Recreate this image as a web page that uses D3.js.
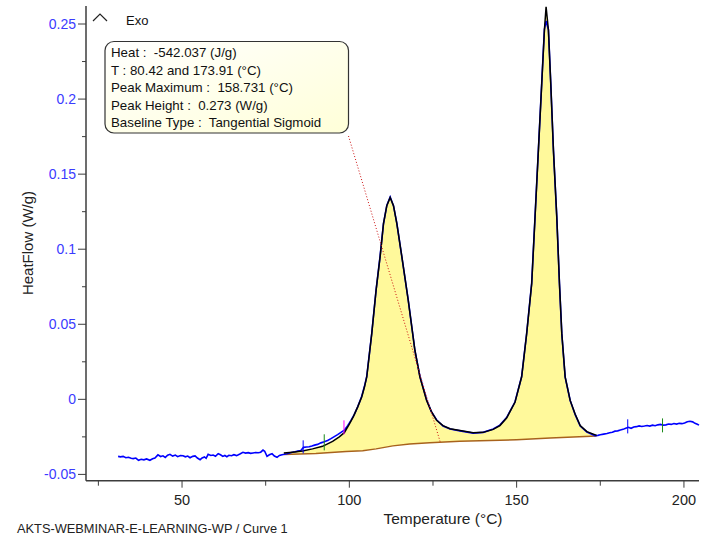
<!DOCTYPE html>
<html>
<head>
<meta charset="utf-8">
<script src="https://cdn.jsdelivr.net/npm/d3@7"></script>
<style>
  body { margin: 0; background: #fff; }
  svg { display: block; font-family: "Liberation Sans", Arial, sans-serif; }
</style>
</head>
<body>
<svg id="chart" width="715" height="537"></svg>
<script>
// measured heat flow (blue), [T °C, W/g]
const measured = [
  [30.9,-0.0380],[31.6,-0.0383],[32.4,-0.0380],[33.2,-0.0389],[34.0,-0.0386],[34.8,-0.0392],
  [35.4,-0.0395],[36.2,-0.0391],[37.0,-0.0406],[37.8,-0.0399],[38.6,-0.0403],[39.4,-0.0397],
  [40.4,-0.0406],[41.2,-0.0396],[41.9,-0.0391],[42.8,-0.0370],[43.6,-0.0381],[44.3,-0.0376],
  [45.0,-0.0387],[45.7,-0.0372],[46.4,-0.0366],[47.2,-0.0378],[48.0,-0.0371],[48.7,-0.0382],
  [49.5,-0.0374],[50.3,-0.0376],[51.0,-0.0383],[51.7,-0.0378],[52.4,-0.0389],[53.2,-0.0380],
  [53.9,-0.0377],[54.6,-0.0391],[55.4,-0.0402],[56.0,-0.0390],[56.7,-0.0384],[57.2,-0.0393],
  [57.8,-0.0366],[58.6,-0.0374],[59.3,-0.0371],[60.0,-0.0379],[60.8,-0.0362],[61.5,-0.0369],
  [62.2,-0.0380],[62.8,-0.0374],[63.4,-0.0382],[64.0,-0.0373],[64.8,-0.0376],[65.5,-0.0369],
  [66.3,-0.0375],[67.3,-0.0364],[68.2,-0.0353],[69.0,-0.0358],[69.8,-0.0355],[70.5,-0.0360],
  [71.2,-0.0357],[72.0,-0.0354],[72.8,-0.0356],[73.5,-0.0352],[74.2,-0.0338],[74.7,-0.0346],
  [75.4,-0.0380],[76.1,-0.0369],[76.9,-0.0362],[77.6,-0.0378],[78.4,-0.0386],[79.1,-0.0374],
  [79.9,-0.0369],[80.6,-0.0366],[81.4,-0.0362],[82.2,-0.0357],[83.0,-0.0352],[83.8,-0.0349],
  [84.6,-0.0345],[85.5,-0.0341],[86.3,-0.0320],[87.2,-0.0318],[88.0,-0.0316],[88.8,-0.0311],
  [89.6,-0.0305],[90.5,-0.0300],[91.5,-0.0290],[92.5,-0.0283],[93.5,-0.0274],[94.5,-0.0262],
  [95.5,-0.0248],[96.5,-0.0235],[97.5,-0.0220],[98.5,-0.0205],[99.5,-0.0175],[100.5,-0.0140],
  [101.5,-0.0100],[102.5,-0.0050],[103.7,0.0020],[104.5,0.0085],[105.2,0.0152],[106.7,0.0440],
  [108.0,0.0730],[109.2,0.0955],[110.2,0.1168],[111.2,0.1292],[112.2,0.1348],[113.2,0.1288],
  [114.2,0.1172],[115.7,0.0948],[117.6,0.0662],[119.6,0.0325],[121.1,0.0152],[123.1,-0.0005],
  [124.5,-0.0082],[126.1,-0.0138],[128.0,-0.0178],[130.1,-0.0198],[133.1,-0.0210],[137.0,-0.0225],
  [140.0,-0.0220],[143.0,-0.0198],[145.0,-0.0172],[147.0,-0.0122],[149.5,-0.0018],[151.5,0.0152],
  [153.0,0.0440],[154.5,0.0775],[155.5,0.1218],[156.5,0.1662],[157.5,0.2108],[158.3,0.2465],
  [158.8,0.2520],[159.5,0.2462],[160.2,0.2102],[161.0,0.1658],[162.0,0.1212],[162.8,0.0768],
  [163.5,0.0436],[164.5,0.0148],[166.0,-0.0008],[167.5,-0.0102],[169.0,-0.0178],[171.0,-0.0218],
  [173.4,-0.0242],[174.3,-0.0240],[175.0,-0.0236],[176.0,-0.0232],[177.0,-0.0228],[177.8,-0.0222],
  [178.6,-0.0219],[179.4,-0.0212],[180.2,-0.0210],[181.0,-0.0204],[181.8,-0.0200],[182.6,-0.0192],
  [183.4,-0.0186],[184.2,-0.0193],[185.0,-0.0184],[185.8,-0.0182],[186.6,-0.0177],[187.4,-0.0181],
  [188.2,-0.0178],[189.0,-0.0174],[189.8,-0.0178],[190.6,-0.0172],[191.4,-0.0176],[192.2,-0.0170],
  [193.0,-0.0167],[193.8,-0.0172],[194.6,-0.0170],[195.4,-0.0164],[196.2,-0.0167],[197.0,-0.0161],
  [197.8,-0.0165],[198.6,-0.0160],[199.4,-0.0162],[200.2,-0.0157],[201.0,-0.0149],[201.8,-0.0146],
  [202.6,-0.0150],[203.3,-0.0160],[204.0,-0.0166],[204.5,-0.0172]
];

// integrated signal (black) between the integration limits
const signal = [
  [80.42,-0.0358],[83,-0.0352],[86,-0.0344],[89,-0.0330],[92,-0.0313],[95,-0.0280],[97,-0.0250],
  [98.5,-0.0222],[100,-0.0165],[101.2,-0.0115],[102.5,-0.0050],[103.7,0.0016],[104.5,0.0080],
  [105.2,0.0149],[106.7,0.0438],[108.0,0.0727],[109.2,0.0950],[110.2,0.1170],[111.2,0.1290],
  [112.2,0.1345],[113.2,0.1290],[114.2,0.1170],[115.7,0.0950],[117.6,0.0660],[119.6,0.0327],
  [121.1,0.0149],[123.1,-0.0007],[124.5,-0.0080],[126.1,-0.0140],[128,-0.0175],[130.1,-0.0196],
  [133.1,-0.0207],[137,-0.0222],[140,-0.0220],[143,-0.0200],[145,-0.0175],[147,-0.0125],
  [149.5,-0.0020],[151.5,0.0150],[153.0,0.0438],[154.5,0.0771],[155.5,0.1215],[156.5,0.1660],
  [157.5,0.2104],[158.3,0.2460],[158.8,0.2615],[159.5,0.2460],[160.2,0.2104],[161.0,0.1660],
  [162.0,0.1215],[162.8,0.0771],[163.5,0.0438],[164.5,0.0150],[166.0,-0.0007],[167.5,-0.0100],
  [169.0,-0.0175],[171,-0.0215],[173.91,-0.0240]
];

// tangential sigmoid baseline
const baseline = [
  [80.42,-0.0367],[90,-0.0360],[99,-0.0347],[104,-0.0342],[108,-0.0330],[113,-0.0310],
  [118,-0.0298],[124,-0.0290],[133,-0.0280],[150,-0.0269],[160,-0.0258],[173.91,-0.0245]
];

// small event markers on the curve
const markers = [
  { t: 86.2,  lo: -0.0360, hi: -0.0273, color: "#0000ff" },
  { t: 92.5,  lo: -0.0340, hi: -0.0233, color: "#1a8a1a" },
  { t: 98.4,  lo: -0.0233, hi: -0.0140, color: "#ff00ff" },
  { t: 183.2, lo: -0.0227, hi: -0.0133, color: "#0000ff" },
  { t: 193.6, lo: -0.0220, hi: -0.0127, color: "#1a8a1a" }
];

const xMajor = [50, 100, 150, 200];
const xMinor = [25, 75, 125, 175];
const yMajor = [-0.05, 0, 0.05, 0.1, 0.15, 0.2, 0.25];
const yMinor = [-0.025, 0.025, 0.075, 0.125, 0.175, 0.225];

const infoLines = [
  "Heat :  -542.037 (J/g)",
  "T : 80.42 and 173.91 (°C)",
  "Peak Maximum :  158.731 (°C)",
  "Peak Height :  0.273 (W/g)",
  "Baseline Type :  Tangential Sigmoid"
];
const connectorT = 127.2;   // where the dotted leader meets the baseline

const svg = d3.select("#chart");
const plotLeft = 86, plotRight = 699, plotTop = 6, plotBottom = 480.7;

const x = d3.scaleLinear().domain([21.3, 204.5]).range([plotLeft, plotRight]);
const y = d3.scaleLinear().domain([-0.0542, 0.262]).range([plotBottom, plotTop]);

const line = d3.line().x(d => x(d[0])).y(d => y(d[1]));

// yellow peak area: signal forward, baseline back
const areaPts = signal.concat(baseline.slice().reverse());
svg.append("path")
  .attr("d", line(areaPts) + "Z")
  .attr("fill", "#fff99b")
  .attr("stroke", "none");

svg.append("path")
  .attr("d", line(baseline))
  .attr("fill", "none")
  .attr("stroke", "#a8621c")
  .attr("stroke-width", 1.5);

svg.append("path")
  .attr("d", line(measured))
  .attr("fill", "none")
  .attr("stroke", "#0000ff")
  .attr("stroke-width", 1.6);

svg.append("path")
  .attr("d", line(signal))
  .attr("fill", "none")
  .attr("stroke", "#000")
  .attr("stroke-width", 1.5);

svg.selectAll(".marker")
  .data(markers)
  .enter().append("line")
  .attr("class", "marker")
  .attr("x1", d => x(d.t)).attr("x2", d => x(d.t))
  .attr("y1", d => y(d.lo)).attr("y2", d => y(d.hi))
  .attr("stroke", d => d.color)
  .attr("stroke-width", 1);

// axes (left + bottom only)
const axisColor = "#3c3c3c";
const yAxis = svg.append("g").attr("transform", `translate(${plotLeft},0)`);
yAxis.append("line").attr("x1", 0).attr("x2", 0).attr("y1", plotTop).attr("y2", plotBottom)
  .attr("stroke", axisColor).attr("stroke-width", 1.5);
yAxis.selectAll(".ymaj").data(yMajor).enter().append("line")
  .attr("x1", -8).attr("x2", 0).attr("y1", d => y(d)).attr("y2", d => y(d))
  .attr("stroke", axisColor);
yAxis.selectAll(".ymin").data(yMinor).enter().append("line")
  .attr("x1", -4).attr("x2", 0).attr("y1", d => y(d)).attr("y2", d => y(d))
  .attr("stroke", axisColor);
yAxis.selectAll(".ylab").data(yMajor).enter().append("text")
  .attr("x", -10).attr("y", d => y(d)).attr("dy", "0.36em")
  .attr("text-anchor", "end")
  .attr("fill", "#3b3bff")
  .style("font-size", "14px")
  .text(d => String(d));

const xAxis = svg.append("g").attr("transform", `translate(0,${plotBottom})`);
xAxis.append("line").attr("x1", plotLeft).attr("x2", plotRight).attr("y1", 0).attr("y2", 0)
  .attr("stroke", axisColor).attr("stroke-width", 1.5);
xAxis.selectAll(".xmaj").data(xMajor).enter().append("line")
  .attr("x1", d => x(d)).attr("x2", d => x(d)).attr("y1", 0).attr("y2", 7)
  .attr("stroke", axisColor);
xAxis.selectAll(".xmin").data(xMinor).enter().append("line")
  .attr("x1", d => x(d)).attr("x2", d => x(d)).attr("y1", 0).attr("y2", 5)
  .attr("stroke", axisColor);
xAxis.selectAll(".xlab").data(xMajor).enter().append("text")
  .attr("x", d => x(d)).attr("y", 24)
  .attr("text-anchor", "middle")
  .attr("fill", "#222")
  .style("font-size", "14.5px")
  .text(d => d);

svg.append("text")
  .attr("x", 443).attr("y", 524)
  .attr("text-anchor", "middle")
  .attr("fill", "#222")
  .style("font-size", "15.5px")
  .text("Temperature (°C)");

svg.append("text")
  .attr("transform", "translate(33,243) rotate(-90)")
  .attr("text-anchor", "middle")
  .attr("fill", "#222")
  .style("font-size", "15px")
  .text("HeatFlow (W/g)");

svg.append("text")
  .attr("x", 17).attr("y", 533)
  .attr("fill", "#222")
  .style("font-size", "12.8px")
  .text("AKTS-WEBMINAR-E-LEARNING-WP / Curve 1");

// exo marker
svg.append("polyline")
  .attr("points", "93,21 100,14 107,21")
  .attr("fill", "none").attr("stroke", "#222").attr("stroke-width", 1.2);
svg.append("text")
  .attr("x", 126).attr("y", 25)
  .attr("fill", "#111")
  .style("font-size", "13px")
  .text("Exo");

// dotted leader from info box to baseline
const boxX = 105, boxY = 41.5, boxW = 243.5, boxH = 91.5;
svg.append("line")
  .attr("x1", boxX + boxW).attr("y1", boxY + boxH + 3)
  .attr("x2", x(connectorT)).attr("y2", y(-0.0287))
  .attr("stroke", "#cc1010").attr("stroke-width", 1)
  .attr("stroke-dasharray", "1,2");

// info box
const defs = svg.append("defs");
const grad = defs.append("linearGradient").attr("id", "boxfill")
  .attr("x1", "0").attr("y1", "0").attr("x2", "1").attr("y2", "1");
grad.append("stop").attr("offset", "0").attr("stop-color", "#ffffff");
grad.append("stop").attr("offset", "1").attr("stop-color", "#ffffd8");

svg.append("rect")
  .attr("x", boxX).attr("y", boxY).attr("width", boxW).attr("height", boxH)
  .attr("rx", 9).attr("ry", 9)
  .attr("fill", "url(#boxfill)")
  .attr("stroke", "#333").attr("stroke-width", 1.2);

svg.selectAll(".info").data(infoLines).enter().append("text")
  .attr("class", "info")
  .attr("x", 111).attr("y", (d, i) => 57 + i * 17.5)
  .attr("fill", "#111")
  .style("font-size", "13.3px")
  .style("white-space", "pre")
  .text(d => d);
</script>
</body>
</html>
